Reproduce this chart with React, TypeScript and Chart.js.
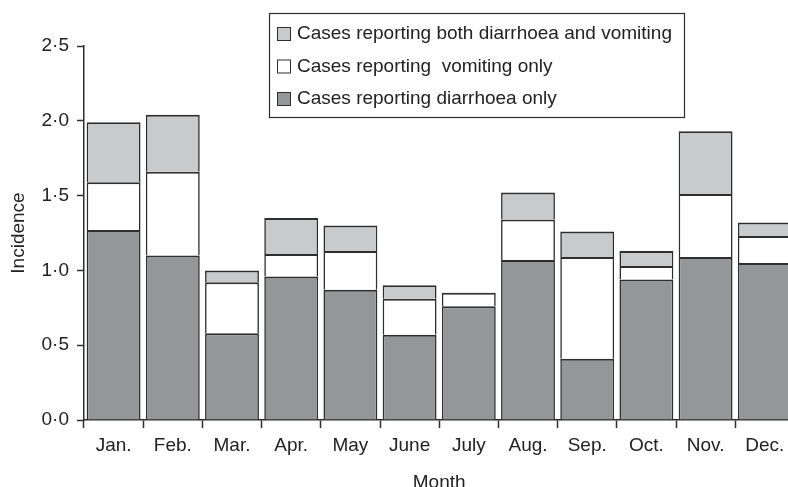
import React, { useEffect, useRef } from "react";
import { Chart, registerables } from "chart.js";

Chart.register(...registerables);

const months = ["Jan.", "Feb.", "Mar.", "Apr.", "May", "June", "July", "Aug.", "Sep.", "Oct.", "Nov.", "Dec."];
const diarrhoeaOnly = [1.27, 1.10, 0.58, 0.96, 0.87, 0.57, 0.76, 1.07, 0.41, 0.94, 1.09, 1.05];
const vomitingOnly = [0.32, 0.56, 0.34, 0.15, 0.26, 0.24, 0.09, 0.27, 0.68, 0.09, 0.42, 0.18];
const bothSymptoms = [0.40, 0.38, 0.08, 0.24, 0.17, 0.09, 0.0, 0.18, 0.17, 0.10, 0.42, 0.09];

const seriesLabels = [
  "Cases reporting diarrhoea only",
  "Cases reporting  vomiting only",
  "Cases reporting both diarrhoea and vomiting",
];
const seriesColors = ["#959698", "#ffffff", "#c9cacc"];

const yTickValues = [0, 0.5, 1.0, 1.5, 2.0, 2.5];

const FONT = "'Liberation Sans', Arial, Helvetica, sans-serif";
const INK = "#222222";
const EDGE = "#2e2e2e";

const boxLegend = {
  id: "boxLegend",
  afterDraw(chart: any) {
    const ctx = chart.ctx;
    ctx.save();
    const x0 = 269, y0 = 13, w = 415, h = 104;
    ctx.fillStyle = "#ffffff";
    ctx.fillRect(x0, y0, w, h);
    ctx.strokeStyle = EDGE;
    ctx.lineWidth = 1.2;
    ctx.strokeRect(x0 + 0.5, y0 + 0.5, w, h);
    const ds = chart.data.datasets.slice().reverse();
    ds.forEach((d: any, i: number) => {
      const cy = 34 + i * 32.5;
      ctx.fillStyle = d.backgroundColor;
      ctx.fillRect(277, cy - 7, 14, 14);
      ctx.lineWidth = 1;
      ctx.strokeStyle = EDGE;
      ctx.strokeRect(277.5, cy - 6.5, 13, 13);
      ctx.fillStyle = INK;
      ctx.font = `19px ${FONT}`;
      ctx.textBaseline = "middle";
      ctx.textAlign = "left";
      ctx.fillText(d.label, 297, cy);
    });
    ctx.restore();
  },
};

export default function App() {
  const ref = useRef<HTMLCanvasElement | null>(null);

  useEffect(() => {
    if (!ref.current) return;
    const values = [diarrhoeaOnly, vomitingOnly, bothSymptoms];
    const chart = new Chart(ref.current, {
      type: "bar",
      data: {
        labels: months,
        datasets: values.map((v, i) => ({
          label: seriesLabels[i],
          data: v,
          backgroundColor: seriesColors[i],
          borderColor: EDGE,
          borderWidth: { top: 2, left: 1.6, right: 1.6, bottom: 0 },
          borderSkipped: false,
          categoryPercentage: 1,
          barPercentage: 0.91,
        })),
      },
      options: {
        animation: false,
        responsive: false,
        maintainAspectRatio: false,
        layout: { padding: { left: 0, right: 5.6, top: 46, bottom: 0 } },
        plugins: {
          legend: { display: false },
          tooltip: { enabled: false },
        },
        scales: {
          x: {
            stacked: true,
            offset: true,
            grid: {
              offset: true,
              drawOnChartArea: false,
              drawTicks: true,
              tickLength: 8,
              tickWidth: 1.5,
              tickColor: EDGE,
            },
            border: { display: true, color: EDGE, width: 1.5 },
            ticks: {
              color: INK,
              font: { family: FONT, size: 19 },
              padding: 6.5,
              maxRotation: 0,
              autoSkip: false,
            },
            title: {
              display: true,
              text: "Month",
              color: INK,
              font: { family: FONT, size: 19 },
              padding: { top: 0, bottom: 0.5 },
            },
            afterFit(scale: any) {
              scale.height = 75;
            },
          },
          y: {
            stacked: true,
            min: 0,
            max: 2.5,
            afterBuildTicks(scale: any) {
              scale.ticks = yTickValues.map((v) => ({ value: v }));
            },
            grid: {
              drawOnChartArea: false,
              drawTicks: true,
              tickLength: 7,
              tickWidth: 1.5,
              tickColor: EDGE,
            },
            border: { display: true, color: EDGE, width: 1.5 },
            ticks: {
              color: INK,
              font: { family: FONT, size: 19 },
              padding: 8,
              callback: (v: any) => Number(v).toFixed(1).replace(".", "\u00B7"),
            },
            title: {
              display: true,
              text: "Incidence",
              color: INK,
              font: { family: FONT, size: 19 },
              padding: { top: 7, bottom: 0 },
            },
            afterFit(scale: any) {
              scale.width = 84;
            },
          },
        },
      },
      plugins: [boxLegend],
    });
    return () => chart.destroy();
  }, []);

  return (
    <div style={{ position: "absolute", left: 0, top: 0, width: 788, height: 487, overflow: "hidden", background: "#fff" }}>
      <canvas ref={ref} width={800} height={495} style={{ display: "block", width: 800, height: 495 }} />
    </div>
  );
}
